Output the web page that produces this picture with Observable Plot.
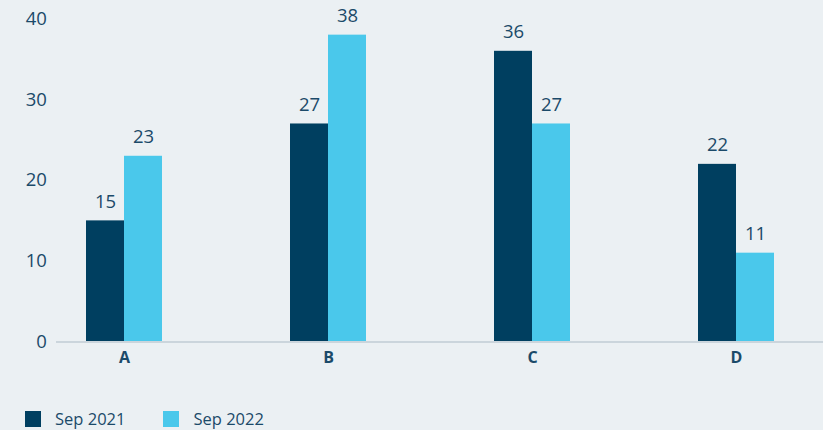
<!DOCTYPE html>
<html>
<head>
<meta charset="utf-8">
<script src="https://cdn.jsdelivr.net/npm/d3@7"></script>
<script src="https://cdn.jsdelivr.net/npm/@observablehq/plot@0.6"></script>
<style>
  html, body { margin: 0; padding: 0; background: #ebf0f3; }
  #chart { width: 823px; height: 430px; overflow: hidden; font-family: "Open Sans", "Noto Sans", sans-serif; }
  .legend { display: flex; align-items: center; margin-top: 21px; padding-left: 25px; height: 16px; }
  .item { display: flex; align-items: center; margin-right: 38px; color: #1b4a69; font-size: 16.5px; line-height: 16px; }
  .sw { width: 16px; height: 16px; margin-right: 14px; }
</style>
</head>
<body>
<div id="chart"></div>
<script>
const categories = ["A", "B", "C", "D"];
const seriesNames = ["Sep 2021", "Sep 2022"];
const sep2021 = [15, 27, 36, 22];
const sep2022 = [23, 38, 27, 11];
const yTicks = [0, 10, 20, 30, 40];
const colors = ["#003f60", "#4ac8eb"];
const textColor = "#1b4a69";

const rows2021 = categories.map((c, i) => ({category: c, value: sep2021[i]}));
const rows2022 = categories.map((c, i) => ({category: c, value: sep2022[i]}));

const half = 38;

const plot = Plot.plot({
  width: 823,
  height: 390,
  marginLeft: 84.4,
  marginRight: 47.9,
  marginTop: 18.5,
  marginBottom: 48.5,
  style: {background: "#ebf0f3", fontFamily: "'Open Sans', 'Noto Sans', sans-serif", color: textColor, overflow: "visible"},
  x: {domain: categories, paddingInner: 0.629, paddingOuter: 0, label: null},
  y: {domain: [0, 40], label: null},
  marks: [
    Plot.axisY({ticks: yTicks, tickSize: 0, tickPadding: 38, fontSize: 18.5, label: null, fill: textColor}),
    Plot.axisX({tickSize: 0, tickPadding: 10, fontSize: 16, fontWeight: "bold", label: null, fill: textColor}),
    Plot.barY(rows2021, {x: "category", y: "value", fill: colors[0], insetRight: half}),
    Plot.barY(rows2022, {x: "category", y: "value", fill: colors[1], insetLeft: half}),
    Plot.ruleY([0], {stroke: "#cbd5dc", strokeWidth: 2, insetLeft: -28.4, insetRight: -47.9}),
    Plot.text(rows2021, {x: "category", y: "value", text: d => String(d.value), dx: -half / 2, dy: -13, lineAnchor: "bottom", fontSize: 18.5, fill: textColor}),
    Plot.text(rows2022, {x: "category", y: "value", text: d => String(d.value), dx: half / 2, dy: -13, lineAnchor: "bottom", fontSize: 18.5, fill: textColor})
  ]
});

const root = document.getElementById("chart");
root.appendChild(plot);

const legend = document.createElement("div");
legend.className = "legend";
seriesNames.forEach((name, i) => {
  const item = document.createElement("div");
  item.className = "item";
  const sw = document.createElement("span");
  sw.className = "sw";
  sw.style.background = colors[i];
  const label = document.createElement("span");
  label.textContent = name;
  item.appendChild(sw);
  item.appendChild(label);
  legend.appendChild(item);
});
root.appendChild(legend);
</script>
</body>
</html>
